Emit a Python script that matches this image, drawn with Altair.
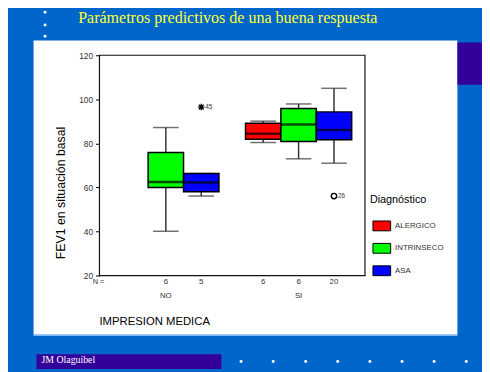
import altair as alt
import pandas as pd

# ---- data ----
impresion = ["NO", "NO", "SI", "SI", "SI"]
diagnostico = ["INTRINSECO", "ASA", "ALERGICO", "INTRINSECO", "ASA"]
whisker_low = [40.1, 56.1, 80.4, 73.0, 71.0]
q1 = [60.0, 58.0, 81.9, 80.9, 81.6]
median = [62.5, 62.2, 84.4, 88.6, 86.1]
q3 = [75.9, 66.3, 89.1, 95.8, 94.3]
whisker_high = [87.2, 66.3, 90.1, 97.9, 105.0]
n_cases = ["6", "5", "6", "6", "20"]

out_impresion = ["NO", "SI"]
out_diag = ["ASA", "ASA"]
out_value = [96.5, 56.1]
out_case = ["45", "26"]
out_kind = ["star", "circle"]

groups = ["NO", "SI"]
diag_order = ["ALERGICO", "INTRINSECO", "ASA"]
diag_colors = ["#FF0000", "#00FF00", "#0000FF"]
y_ticks = [20, 40, 60, 80, 100, 120]

slide_title = "Parámetros predictivos de una buena respuesta"
author = "JM Olaguibel"
y_title = "FEV1 en situación basal"
x_title = "IMPRESION MEDICA"
legend_title = "Diagnóstico"

box = pd.DataFrame({
    "imp": impresion, "diag": diagnostico, "lo": whisker_low, "q1": q1,
    "med": median, "q3": q3, "hi": whisker_high, "n": n_cases,
})
outl = pd.DataFrame({"imp": out_impresion, "diag": out_diag,
                     "v": out_value, "case": out_case, "kind": out_kind})
one = pd.DataFrame({"k": [0]})

SANS = "Liberation Sans"
SERIF = "Liberation Serif"
W, H = 270, 224

x_axis = alt.Axis(title=None, domain=False, ticks=False, tickSize=0, labelAngle=0,
                  labelFont=SANS, labelFontSize=8, labelColor="#333333",
                  labelPadding=16, grid=False, zindex=2)
y_axis = alt.Axis(title=None, values=y_ticks, domain=False, ticks=True, tickSize=4,
                  tickColor="black", tickWidth=1, labelFont=SANS, labelFontSize=8.5,
                  labelColor="#333333", labelPadding=3, grid=False, zindex=2)
x_scale = alt.Scale(domain=groups, paddingInner=0.2, paddingOuter=0.1)
xo_scale = alt.Scale(domain=diag_order, paddingInner=0, paddingOuter=0)
y_scale = alt.Scale(domain=[20, 120], nice=False, zero=False)


def X():
    return alt.X("imp:N", scale=x_scale, axis=x_axis)


def XO():
    return alt.XOffset("diag:N", scale=xo_scale)


def Y(field):
    return alt.Y(f"{field}:Q", scale=y_scale, axis=y_axis)


def deco_rect(x0, x1, y0, y1, color):
    return alt.Chart(one).mark_rect(color=color).encode(
        x=alt.value(x0), x2=alt.value(x1), y=alt.value(y0), y2=alt.value(y1))


layers = []
# slide decorations
layers.append(deco_rect(-67, 364, -15, 284, "white"))
layers.append(alt.Chart(one).mark_rule(color="#A8D4FF", strokeWidth=1.5).encode(
    x=alt.value(-67), x2=alt.value(364), y=alt.value(284.5)))
layers.append(deco_rect(364, 389, -13, 30, "#330099"))
layers.append(deco_rect(-64, 124, 304, 319, "#330099"))
layers.append(alt.Chart(one).mark_text(
    text=author, font=SERIF, fontSize=10, color="white", align="left",
    baseline="middle").encode(x=alt.value(-59), y=alt.value(309.5)))
layers.append(alt.Chart(one).mark_text(
    text=slide_title, font=SERIF, fontSize=16.3, color="#FFFF33", align="center",
    baseline="middle").encode(x=alt.value(130.5), y=alt.value(-38)))
for (dx, dy) in [(-55.3, -43.7), (-55.3, -30.7), (-55.3, -19.3),
                 (144, 311.3), (176.7, 311.3), (209.7, 311.3), (242.3, 311.3),
                 (275, 311.3), (307.7, 311.3), (340.3, 311.3), (373, 311.3)]:
    layers.append(alt.Chart(one).mark_circle(color="white", size=9, opacity=1).encode(
        x=alt.value(dx), y=alt.value(dy)))

# plot frame
layers.append(alt.Chart(one).mark_rect(fillOpacity=0, stroke="#111111", strokeWidth=1.2).encode(
    x=alt.value(0), x2=alt.value(W), y=alt.value(0), y2=alt.value(H)))

base = alt.Chart(box)
layers.append(base.mark_rule(color="#333333", strokeWidth=1.5).encode(
    x=X(), xOffset=XO(), y=Y("lo"), y2="hi:Q"))
layers.append(base.mark_tick(color="#333333", thickness=1.5, size=26).encode(
    x=X(), xOffset=XO(), y=Y("lo")))
layers.append(base.mark_tick(color="#333333", thickness=1.5, size=26).encode(
    x=X(), xOffset=XO(), y=Y("hi")))
layers.append(base.mark_bar(stroke="black", strokeWidth=1.5, opacity=1).encode(
    x=X(), xOffset=XO(), y=Y("q1"), y2="q3:Q",
    fill=alt.Fill("diag:N", scale=alt.Scale(domain=diag_order, range=diag_colors),
                  legend=alt.Legend(
                      orient="none", legendX=275, legendY=141, title=legend_title,
                      titleFont=SANS, titleFontSize=11, titleFontWeight="normal",
                      titleColor="black", titlePadding=12, titleAnchor="start",
                      labelFont=SANS, labelFontSize=8, labelColor="#333333",
                      symbolType="M-1,-0.556H1V0.556H-1Z", symbolSize=324,
                      symbolStrokeColor="black", symbolStrokeWidth=1,
                      symbolOpacity=1, symbolOffset=2.6, labelOffset=4,
                      rowPadding=5.8, padding=0, zindex=2))))
layers.append(base.mark_tick(color="black", thickness=2.5, size=36).encode(
    x=X(), xOffset=XO(), y=Y("med")))

# outliers
ob = alt.Chart(outl)
layers.append(ob.transform_filter(alt.datum.kind == "star").mark_point(
    shape="M-1,0L1,0M0,-1L0,1M-0.75,-0.75L0.75,0.75M-0.75,0.75L0.75,-0.75",
    filled=False, color="black", strokeWidth=1.3, size=42, opacity=1).encode(
    x=X(), xOffset=XO(), y=Y("v")))
layers.append(ob.transform_filter(alt.datum.kind == "circle").mark_point(
    shape="circle", filled=False, color="black", strokeWidth=1.4, size=30, opacity=1).encode(
    x=X(), xOffset=XO(), y=Y("v")))
layers.append(ob.mark_text(font=SANS, fontSize=6.5, color="#333333", align="left",
                           baseline="middle", dx=4).encode(
    x=X(), xOffset=XO(), y=Y("v"), text="case:N"))

# N = row
layers.append(base.mark_text(font=SANS, fontSize=8, color="#333333", align="center",
                             baseline="middle").encode(
    x=X(), xOffset=XO(), y=alt.value(231), text="n:N"))
layers.append(alt.Chart(one).mark_text(text="N =", font=SANS, fontSize=7.5, color="#333333",
                                       align="center", baseline="middle").encode(
    x=alt.value(-1), y=alt.value(231)))

# axis titles
layers.append(alt.Chart(one).mark_text(text=y_title, font=SANS, fontSize=12.5, color="black",
                                       angle=270, align="center", baseline="middle").encode(
    x=alt.value(-39), y=alt.value(140)))
layers.append(alt.Chart(one).mark_text(text=x_title, font=SANS, fontSize=11.5, color="black",
                                       align="left", baseline="middle").encode(
    x=alt.value(0), y=alt.value(271)))

chart = alt.layer(*layers).properties(
    width=W, height=H,
    padding={"left": 93, "top": 45, "right": 119, "bottom": 95},
    autosize=alt.AutoSizeParams(type="none"),
    background="#0066CC",
).configure_view(strokeWidth=0)

chart.save("out.html", embed_options={"renderer": "svg", "actions": False})
